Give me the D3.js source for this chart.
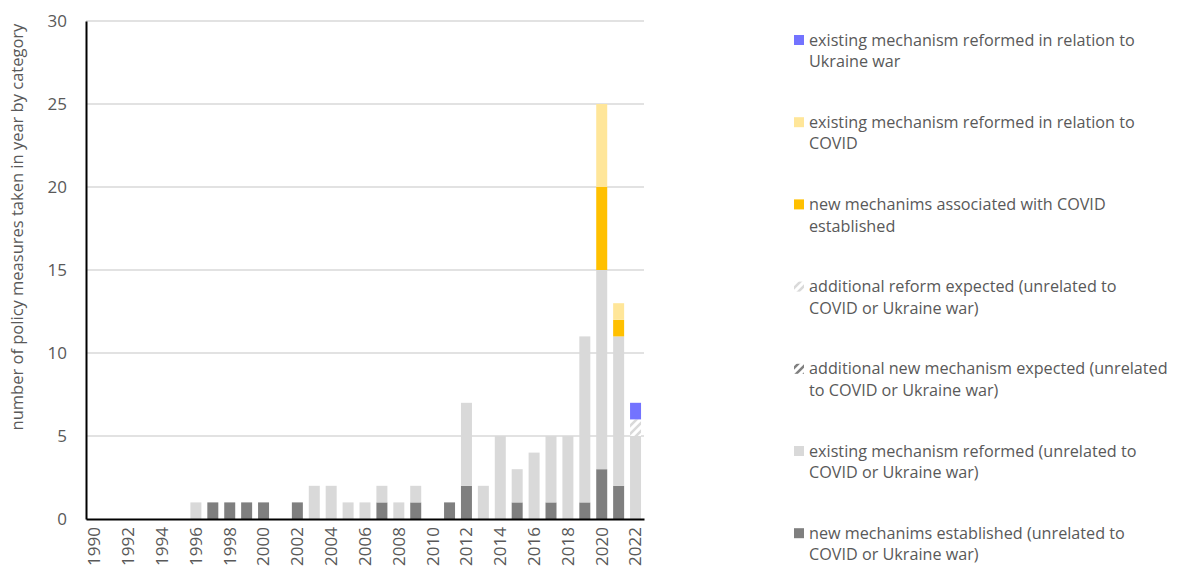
<!DOCTYPE html>
<html>
<head>
<meta charset="utf-8">
<script src="https://cdn.jsdelivr.net/npm/d3@7"></script>
<style>
  body { margin: 0; background: #fff; }
  text { font-family: "Open Sans", sans-serif; fill: #595959; }
</style>
</head>
<body>
<div id="the_chart"></div>
<script>
var years = [];
for (var y = 1990; y <= 2022; y++) years.push(y);

// values per year, 1990 .. 2022
var newMech      = [0,0,0,0,0,0,0,1,1,1,1,0,1,0,0,0,0,1,0,1,0,1,2,0,0,1,0,1,0,1,3,2,0];
var existReform  = [0,0,0,0,0,0,1,0,0,0,0,0,0,2,2,1,1,1,1,1,0,0,5,2,5,2,4,4,5,10,12,9,5];
var addNewExp    = [0,0,0,0,0,0,0,0,0,0,0,0,0,0,0,0,0,0,0,0,0,0,0,0,0,0,0,0,0,0,0,0,0];
var addReformExp = [0,0,0,0,0,0,0,0,0,0,0,0,0,0,0,0,0,0,0,0,0,0,0,0,0,0,0,0,0,0,0,0,1];
var covidNew     = [0,0,0,0,0,0,0,0,0,0,0,0,0,0,0,0,0,0,0,0,0,0,0,0,0,0,0,0,0,0,5,1,0];
var covidReform  = [0,0,0,0,0,0,0,0,0,0,0,0,0,0,0,0,0,0,0,0,0,0,0,0,0,0,0,0,0,0,5,1,0];
var ukraine      = [0,0,0,0,0,0,0,0,0,0,0,0,0,0,0,0,0,0,0,0,0,0,0,0,0,0,0,0,0,0,0,0,1];

var yTicks = [0, 5, 10, 15, 20, 25, 30];

// bottom to top
var series = [
  {key: "newMech", name: "new mechanims established (unrelated to|COVID or Ukraine war)", values: newMech, fill: "#7f7f7f"},
  {key: "existReform", name: "existing mechanism reformed (unrelated to|COVID or Ukraine war)", values: existReform, fill: "#d9d9d9"},
  {key: "addNewExp", name: "additional new mechanism expected (unrelated|to COVID or Ukraine war)", values: addNewExp, fill: "url(#hatchDark)"},
  {key: "addReformExp", name: "additional reform expected (unrelated to|COVID or Ukraine war)", values: addReformExp, fill: "url(#hatchLight)"},
  {key: "covidNew", name: "new mechanims associated with COVID|established", values: covidNew, fill: "#ffc000"},
  {key: "covidReform", name: "existing mechanism reformed in relation to|COVID", values: covidReform, fill: "#ffe699"},
  {key: "ukraine", name: "existing mechanism reformed in relation to|Ukraine war", values: ukraine, fill: "#7373ff"}
];

gen_vis();

function gen_vis() {
  var table = years.map(function(yr, i) {
    var row = {year: yr};
    series.forEach(function(s) { row[s.key] = s.values[i]; });
    return row;
  });

  var w = 1177, h = 569;
  var padL = 86, padR = 644, padT = 21, padB = 519;

  var svg = d3.select("#the_chart").append("svg")
    .attr("width", w).attr("height", h);

  var defs = svg.append("defs");
  function hatch(id, bg, fg) {
    var p = defs.append("pattern").attr("id", id)
      .attr("patternUnits", "userSpaceOnUse")
      .attr("width", 8).attr("height", 8);
    p.append("rect").attr("width", 8).attr("height", 8).attr("fill", bg);
    p.append("path").attr("d", "M-2,10 L10,-2 M-2,2 L2,-2 M6,10 L10,6")
      .attr("stroke", fg).attr("stroke-width", 2.5);
  }
  hatch("hatchLight", "#ffffff", "#d9d9d9");
  hatch("hatchDark", "#ffffff", "#7f7f7f");

  var xscale = d3.scaleBand()
    .domain(years)
    .range([padL, padR])
    .paddingInner(0.35)
    .paddingOuter(0.175);

  var yscale = d3.scaleLinear()
    .domain([0, 30])
    .range([padB, padT]);

  // gridlines
  svg.append("g")
    .selectAll("line")
    .data(yTicks.filter(function(d) { return d > 0; }))
    .enter().append("line")
    .attr("x1", padL).attr("x2", padR)
    .attr("y1", function(d) { return yscale(d); })
    .attr("y2", function(d) { return yscale(d); })
    .attr("stroke", "#d9d9d9").attr("stroke-width", 1.3);

  var stack = d3.stack().keys(series.map(function(s) { return s.key; }));
  var stacked = stack(table);

  svg.append("g")
    .selectAll("g")
    .data(stacked)
    .enter().append("g")
    .attr("fill", function(d, i) { return series[i].fill; })
    .selectAll("rect")
    .data(function(d) { return d; })
    .enter().append("rect")
    .attr("x", function(d) { return xscale(d.data.year); })
    .attr("width", xscale.bandwidth())
    .attr("y", function(d) { return yscale(d[1]); })
    .attr("height", function(d) { return yscale(d[0]) - yscale(d[1]); });

  // y axis
  var yaxis = d3.axisLeft(yscale).tickValues(yTicks).tickSize(0).tickPadding(19);
  var gy = svg.append("g")
    .attr("transform", "translate(" + padL + ",0)")
    .call(yaxis);
  gy.select(".domain").attr("stroke", "#000").attr("stroke-width", 2);
  gy.selectAll("text").style("font-size", "17px").attr("fill", "#595959");

  // x axis
  var xaxis = d3.axisBottom(xscale)
    .tickValues(years.filter(function(d) { return d % 2 == 0; }))
    .tickSize(0);
  var gx = svg.append("g")
    .attr("transform", "translate(0," + padB + ")")
    .call(xaxis);
  gx.select(".domain").attr("stroke", "#000").attr("stroke-width", 2);
  gx.selectAll("text")
    .style("font-size", "17px")
    .attr("fill", "#595959")
    .attr("text-anchor", "end")
    .attr("transform", "rotate(-90)")
    .attr("x", -8)
    .attr("y", 0)
    .attr("dy", "0.35em");

  // y title
  svg.append("text")
    .attr("transform", "translate(23,227) rotate(-90)")
    .attr("text-anchor", "middle")
    .style("font-size", "16.5px")
    .text("number of policy measures taken in year by category");

  // legend, top to bottom
  var legend = svg.append("g").attr("transform", "translate(794,0)");
  var legendItems = series.slice().reverse();
  legendItems.forEach(function(s, i) {
    var y0 = 40 + i * 82.2;
    legend.append("rect")
      .attr("x", 0).attr("y", y0 - 5)
      .attr("width", 10).attr("height", 10)
      .attr("fill", s.fill);
    var lines = s.name.split("|");
    var t = legend.append("text")
      .attr("x", 15).attr("y", y0)
      .style("font-size", "16.2px");
    lines.forEach(function(l, j) {
      t.append("tspan").attr("x", 15).attr("dy", j == 0 ? "0.35em" : "21.5px").text(l);
    });
  });
}
</script>
</body>
</html>
